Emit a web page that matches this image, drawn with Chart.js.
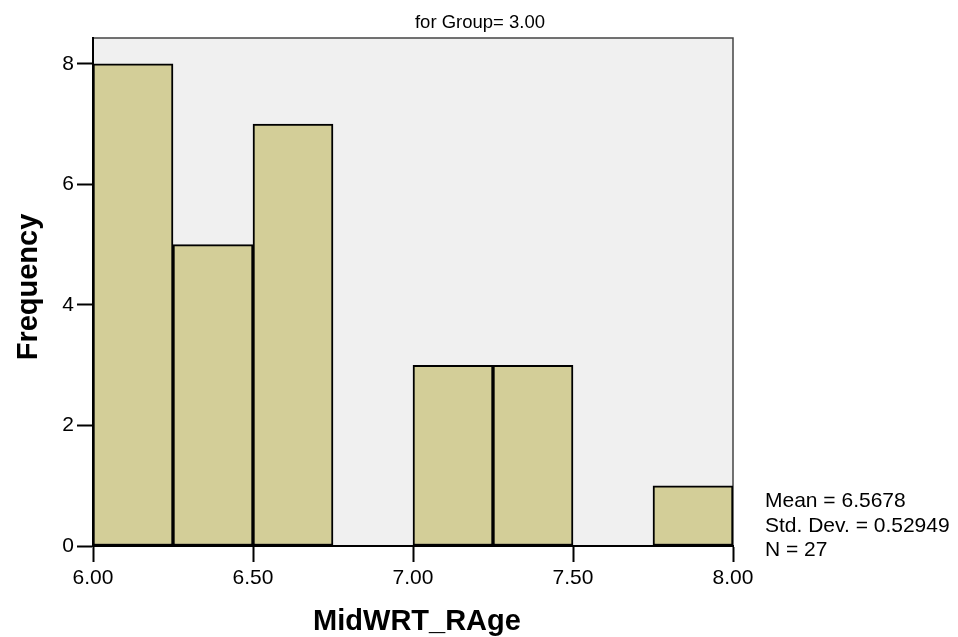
<!DOCTYPE html>
<html>
<head>
<meta charset="utf-8">
<script src="https://cdn.jsdelivr.net/npm/chart.js@4/dist/chart.umd.min.js"></script>
<style>
  html, body { margin: 0; padding: 0; background: #fff; }
  #wrap { width: 958px; height: 637px; }
</style>
</head>
<body>
<div id="wrap"><canvas id="histChart" width="958" height="637"></canvas></div>
<script>
// histogram bins (lower edges, width 0.25) and counts
const binStarts = [6.00, 6.25, 6.50, 6.75, 7.00, 7.25, 7.50, 7.75];
const binWidth = 0.25;
const counts = [8, 5, 7, 0, 3, 3, 0, 1];
const xTicks = [6.0, 6.5, 7.0, 7.5, 8.0];
const yTicks = [0, 2, 4, 6, 8];
const groupTitle = 'for Group= 3.00';
const statsLines = ['Mean = 6.5678', 'Std. Dev. = 0.52949', 'N = 27'];

const barData = binStarts.map((s, i) => ({ x: s + binWidth / 2, y: counts[i] }));

const plotDecor = {
    id: 'plotDecor',
    beforeDraw(chart) {
        const { ctx, chartArea: a } = chart;
        ctx.save();
        ctx.fillStyle = '#f0f0f0';
        ctx.fillRect(a.left, a.top, a.right - a.left, a.bottom - a.top);
        ctx.strokeStyle = '#444';
        ctx.lineWidth = 1.5;
        ctx.strokeRect(a.left, a.top, a.right - a.left, a.bottom - a.top);
        ctx.restore();
    },
    afterDraw(chart) {
        const { ctx } = chart;
        ctx.save();
        ctx.fillStyle = '#000';
        ctx.textBaseline = 'alphabetic';

        ctx.font = '18.5px "Liberation Sans", Arial, sans-serif';
        ctx.textAlign = 'center';
        ctx.fillText(groupTitle, 480, 28);

        ctx.font = '21px "Liberation Sans", Arial, sans-serif';
        ctx.textAlign = 'left';
        statsLines.forEach((t, i) => ctx.fillText(t, 765, 507 + i * 24.5));

        ctx.font = 'bold 29px "Liberation Sans", Arial, sans-serif';
        ctx.textAlign = 'center';
        ctx.fillText('MidWRT_RAge', 417, 630);

        ctx.translate(37, 287);
        ctx.rotate(-Math.PI / 2);
        ctx.fillText('Frequency', 0, 0);
        ctx.restore();
    }
};

new Chart(document.getElementById('histChart'), {
    type: 'bar',
    data: {
        datasets: [{
            data: barData,
            backgroundColor: '#d3ce98',
            borderColor: '#000',
            borderWidth: 2,
            borderSkipped: false,
            barPercentage: 1,
            categoryPercentage: 1
        }]
    },
    options: {
        responsive: false,
        animation: false,
        layout: { padding: { top: 38, right: 225, left: 0, bottom: 0 } },
        plugins: { legend: { display: false }, tooltip: { enabled: false } },
        scales: {
            x: {
                type: 'linear',
                offset: false,
                min: 6,
                max: 8,
                afterBuildTicks: (s) => { s.ticks = xTicks.map(v => ({ value: v })); },
                afterFit: (s) => { s.height = 91; },
                grid: { offset: false, drawOnChartArea: false, tickLength: 16, tickColor: '#000', tickWidth: 2 },
                border: { color: '#000', width: 2 },
                ticks: {
                    color: '#000',
                    padding: 4,
                    maxRotation: 0,
                    font: { family: '"Liberation Sans", Arial, sans-serif', size: 21 },
                    callback: (v) => Number(v).toFixed(2)
                }
            },
            y: {
                min: 0,
                max: 8.43,
                afterBuildTicks: (s) => { s.ticks = yTicks.map(v => ({ value: v })); },
                afterFit: (s) => { s.width = 93; },
                grid: { drawOnChartArea: false, tickLength: 16, tickColor: '#000', tickWidth: 2 },
                border: { color: '#000', width: 2 },
                ticks: {
                    color: '#000',
                    padding: 3,
                    font: { family: '"Liberation Sans", Arial, sans-serif', size: 21 }
                }
            }
        }
    },
    plugins: [plotDecor]
});
</script>
</body>
</html>
